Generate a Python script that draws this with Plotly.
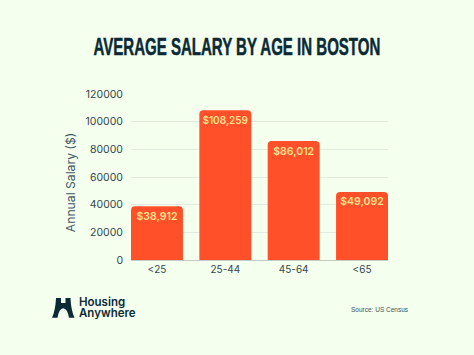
import plotly.graph_objects as go

age_groups = ["<25", "25-44", "45-64", "<65"]
salaries = [38912, 108259, 86012, 49092]
bar_labels = ["$38,912", "$108,259", "$86,012", "$49,092"]
y_ticks = [0, 20000, 40000, 60000, 80000, 100000, 120000]

BG = "#F4FFEE"
INK = "#0B2A36"
GREY = "#33474F"
SANS = "Inter, Liberation Sans"
W, H = 474, 355
L, R, T, B = 131, 388, 93.5, 260
pw, ph = R - L, B - T


def fx(px):
    return (px - L) / pw


def fy(py):
    return (B - py) / ph


def note(text, px, py, size, color, family=SANS, weight=400, anchor="center", angle=0):
    return dict(text=text, x=fx(px), y=fy(py), xref="paper", yref="paper", showarrow=False,
                xanchor=anchor, yanchor="middle", textangle=angle, align="left" if anchor == "left" else "center",
                font=dict(family=family, size=size, color=color, weight=weight))


fig = go.Figure(go.Bar(
    x=age_groups, y=salaries, text=bar_labels,
    marker=dict(color="#FF5029", cornerradius=4, line_width=0),
    textposition="inside", insidetextanchor="end", textangle=0,
    insidetextfont=dict(family=SANS, size=10.5, color="#FFE28F", weight=600),
    cliponaxis=False, hoverinfo="skip",
))

fig.update_layout(
    width=W, height=H, autosize=False,
    paper_bgcolor=BG, plot_bgcolor=BG,
    margin=dict(l=L, r=W - R, t=T, b=H - B, pad=0),
    showlegend=False, bargap=0.24,
    font=dict(family=SANS, color=INK),
    xaxis=dict(range=[-0.38, 3.38], tickfont=dict(size=10, color=GREY), showgrid=False, ticks="",
               showline=True, linecolor="#C3CCC4", linewidth=1),
    yaxis=dict(range=[0, 120000], tickvals=y_ticks, ticktext=[str(v) for v in y_ticks],
               tickfont=dict(size=10.5, color=GREY), ticks="", ticklabelstandoff=7,
               gridcolor="#E1EADF", gridwidth=1, zeroline=False, showline=False),
    annotations=[
        note("AVERAGE SALARY BY AGE IN BOSTON", 237, 45.5, 24, INK, "Liberation Sans", 700),
        note("Annual Salary ($)", 70.5, 182.5, 12.2, "#3F5A66", angle=-90),
        note("Housing<br>Anywhere", 77, 310, 11.5, INK, weight=600, anchor="left"),
        note("Source: US Census", 380, 309.5, 6.5, "#3F5560", "Liberation Sans"),
    ],
)

# logo mark: a bridge-shaped "H", drawn in page pixels
x0, y0 = 52, 298
logo = [("M", 0, 20), ("Q", 3.5, 12, 4, 0), ("L", 9, 0), ("L", 9, 5), ("L", 13.5, 5), ("L", 13.5, 0),
        ("L", 18.5, 0), ("Q", 19, 12, 22.5, 20), ("L", 17, 20), ("Q", 15.5, 11, 11.2, 10.5),
        ("Q", 7, 11, 5.5, 20)]
path = ""
for seg in logo:
    c, *v = seg
    coords = [f"{fx(x0 + v[i]):.4f} {fy(y0 + v[i + 1]):.4f}" for i in range(0, len(v), 2)]
    path += f"{c} {' '.join(coords)} "
fig.add_shape(type="path", path=path + "Z", xref="paper", yref="paper",
              fillcolor=INK, line_width=0, layer="above")

post = """
document.body.style.margin = '0';
document.querySelectorAll('.annotation-text').forEach(function (t) {
  if (t.textContent.indexOf('AVERAGE') === 0) {
    var box = t.getBBox();
    var cx = box.x + box.width / 2;
    var s = 287 / t.getComputedTextLength();
    t.setAttribute('transform', 'translate(' + cx + ',0) scale(' + s + ',1) translate(' + (-cx) + ',0)');
    t.style.stroke = '#0B2A36';
    t.style.strokeWidth = '0.5px';
  }
  var lines = t.querySelectorAll('tspan.line');
  if (lines.length === 2) { lines[1].setAttribute('dy', '0.96em'); }
});
"""
fig.write_html("out.html", post_script=post, config={"displayModeBar": False})
